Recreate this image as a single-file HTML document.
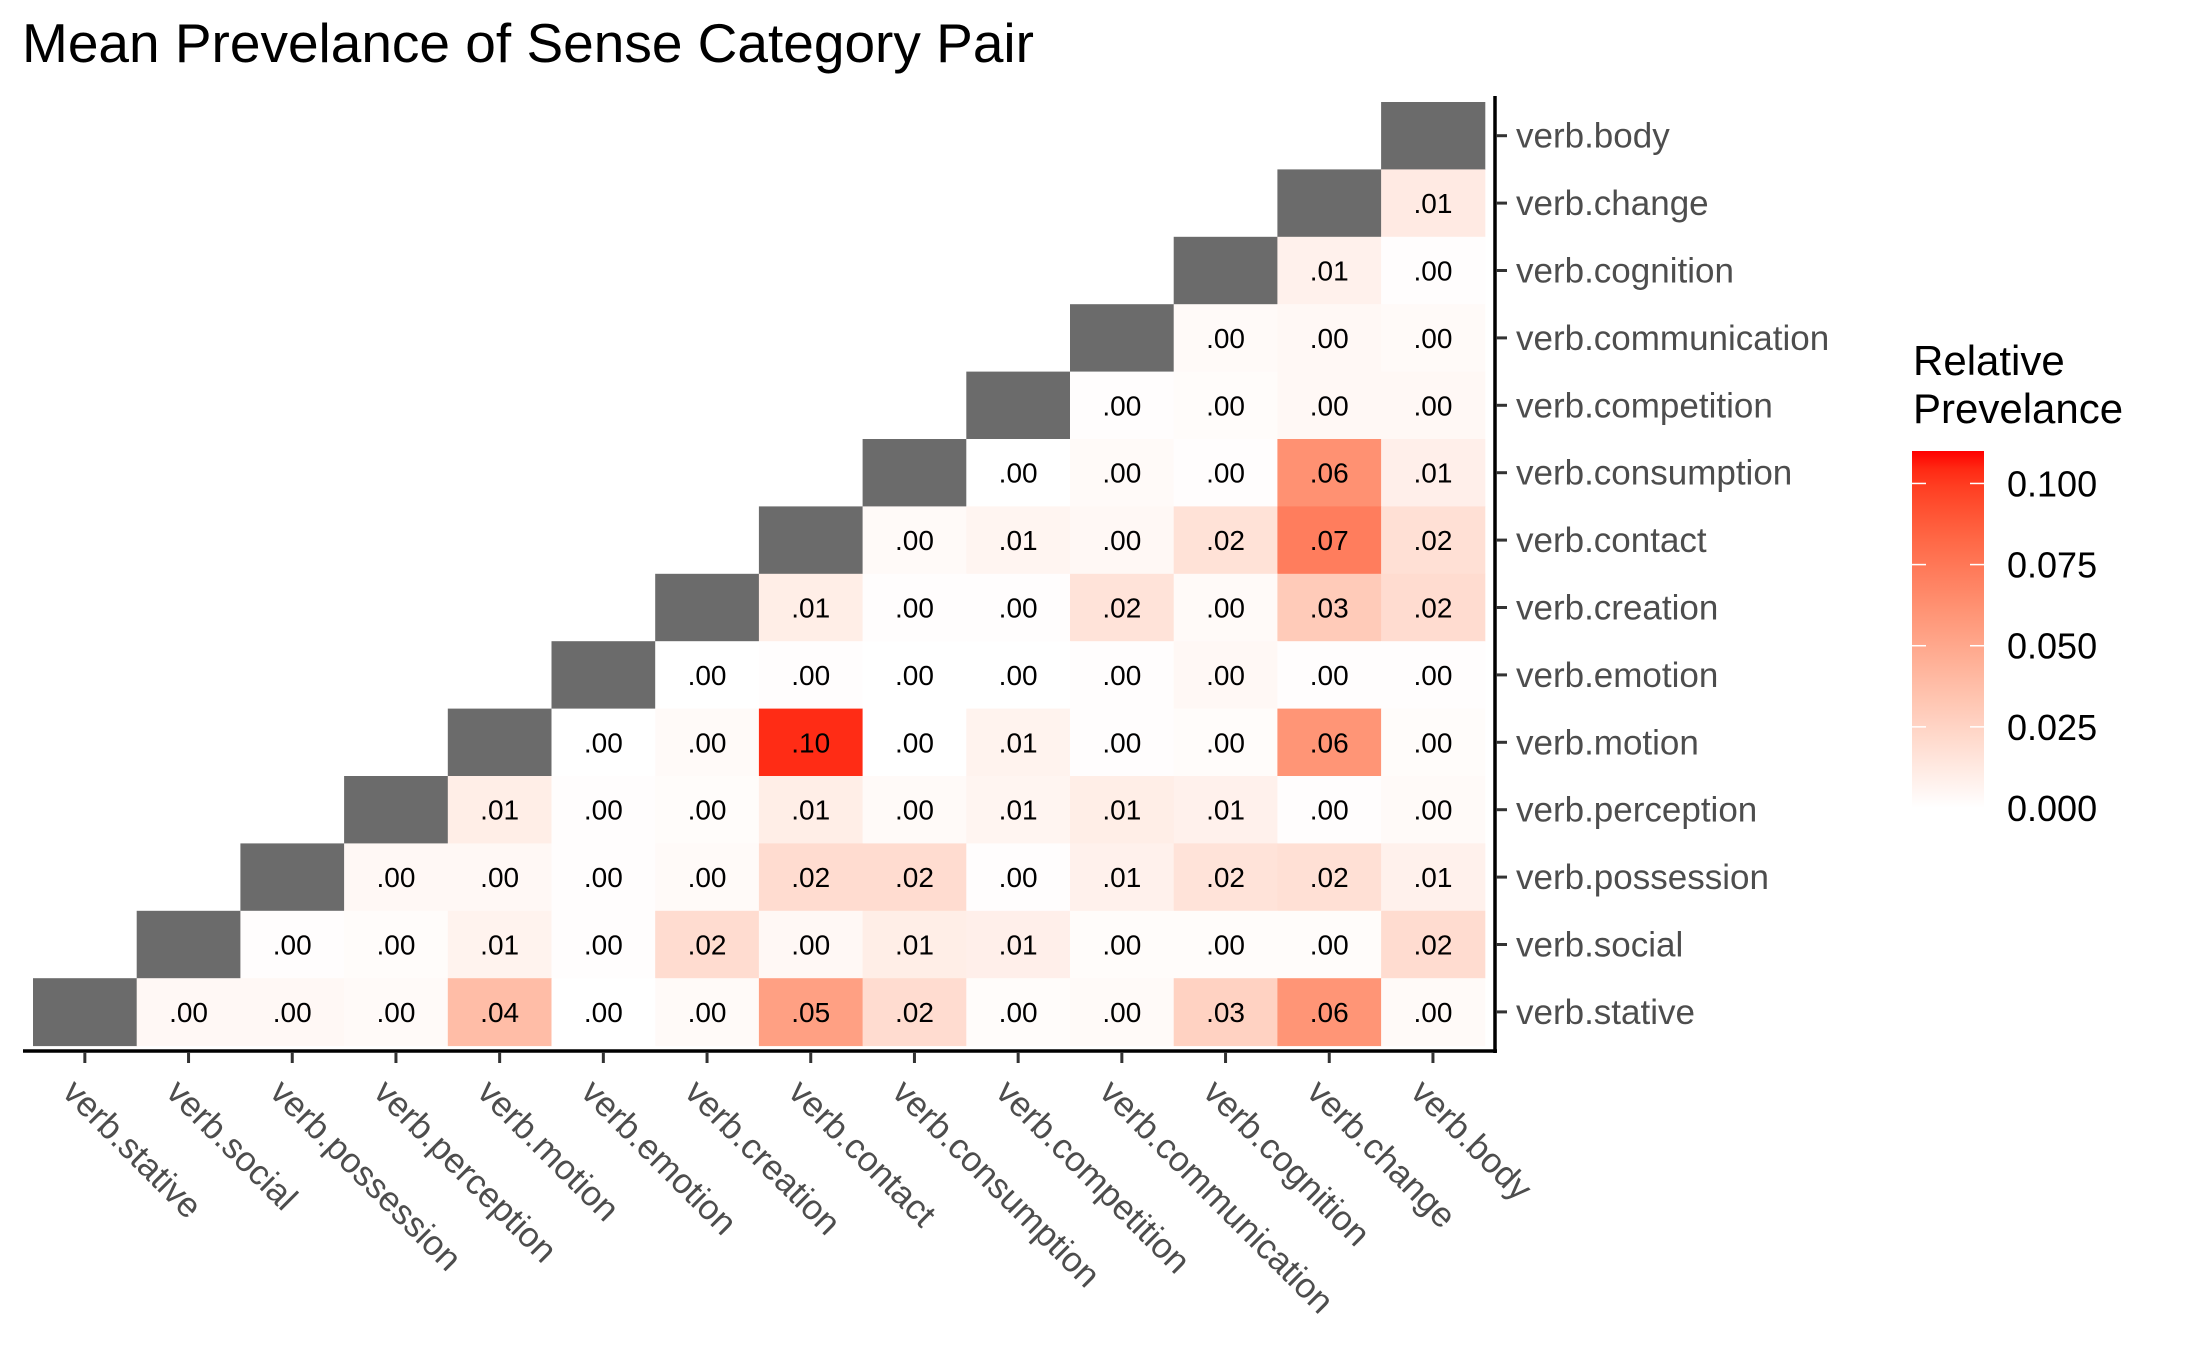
<!DOCTYPE html>
<html><head><meta charset="utf-8"><style>
html,body{margin:0;padding:0;background:#fff;}
svg{display:block;font-family:"Liberation Sans",Arial,sans-serif;}
</style></head><body>
<svg id="chart" width="2187" height="1351" viewBox="0 0 2187 1351">
<text x="22" y="62" font-size="55" fill="#000">Mean Prevelance of Sense Category Pair</text>
<g id="cells"></g>
<g id="axes"></g>
<g id="legend">
<defs><linearGradient id="lg" x1="0" y1="1" x2="0" y2="0"></linearGradient></defs>
<text x="1913" y="375" font-size="42" fill="#000">Relative</text>
<text x="1913" y="423" font-size="42" fill="#000">Prevelance</text>
</g>
</svg>
<script>
const cats = ["verb.stative","verb.social","verb.possession","verb.perception","verb.motion","verb.emotion","verb.creation","verb.contact","verb.consumption","verb.competition","verb.communication","verb.cognition","verb.change","verb.body"];
const rowBody = [];
const rowChange = [0.012];
const rowCognition = [0.008,0.001];
const rowCommunication = [0.003,0.004,0.003];
const rowCompetition = [0.001,0.002,0.004,0.004];
const rowConsumption = [0.0,0.003,0.001,0.062,0.009];
const rowContact = [0.003,0.006,0.004,0.017,0.072,0.018];
const rowCreation = [0.01,0.001,0.001,0.016,0.003,0.03,0.02];
const rowEmotion = [0.0,0.001,0.0,0.0,0.001,0.004,0.001,0.001];
const rowMotion = [0.0,0.003,0.104,0.0,0.007,0.001,0.002,0.06,0.002];
const rowPerception = [0.01,0.001,0.002,0.01,0.003,0.006,0.01,0.008,0.001,0.003];
const rowPossession = [0.004,0.004,0.001,0.003,0.02,0.02,0.001,0.008,0.016,0.018,0.008];
const rowSocial = [0.001,0.002,0.007,0.001,0.02,0.004,0.01,0.009,0.002,0.002,0.002,0.02];
const rowStative = [0.004,0.004,0.003,0.038,0.0,0.003,0.054,0.02,0.002,0.003,0.026,0.06,0.003];
const rows = [rowBody,rowChange,rowCognition,rowCommunication,rowCompetition,rowConsumption,rowContact,rowCreation,rowEmotion,rowMotion,rowPerception,rowPossession,rowSocial,rowStative];
const legendTicks = [0,0.025,0.05,0.075,0.1];
const legendLabels = ["0.000","0.025","0.050","0.075","0.100"];
const vmax = 0.11;

const NS="http://www.w3.org/2000/svg";
const X0=33, CW=103.7, Y0=102, CH=67.4, N=14;
const xPos = c => X0 + c*CW;
const yPos = r => Y0 + r*CH;
function mk(tag, attrs, parent){const e=document.createElementNS(NS,tag);for(const k in attrs)e.setAttribute(k,attrs[k]);parent.appendChild(e);return e;}

function srgb2lin(c){c/=255;return c<=0.04045?c/12.92:Math.pow((c+0.055)/1.055,2.4);}
function lin2srgb(c){c=c<=0.0031308?12.92*c:1.055*Math.pow(c,1/2.4)-0.055;return Math.max(0,Math.min(255,Math.round(c*255)));}
function toLab(r,g,b){r=srgb2lin(r);g=srgb2lin(g);b=srgb2lin(b);
 let x=(r*0.4124+g*0.3576+b*0.1805)/0.95047,y=(r*0.2126+g*0.7152+b*0.0722),z=(r*0.0193+g*0.1192+b*0.9505)/1.08883;
 const f=t=>t>0.008856?Math.cbrt(t):7.787*t+16/116;x=f(x);y=f(y);z=f(z);return [116*y-16,500*(x-y),200*(y-z)];}
function fromLab(L,a,b){let y=(L+16)/116,x=a/500+y,z=y-b/200;const fi=t=>t*t*t>0.008856?t*t*t:(t-16/116)/7.787;
 x=fi(x)*0.95047;y=fi(y);z=fi(z)*1.08883;
 const r=x*3.2406+y*-1.5372+z*-0.4986,g=x*-0.9689+y*1.8758+z*0.0415,bb=x*0.0557+y*-0.2040+z*1.0570;
 return `rgb(${lin2srgb(r)},${lin2srgb(g)},${lin2srgb(bb)})`;}
const LW=toLab(255,255,255), LR=toLab(255,0,0);
function col(v){const t=Math.max(0,Math.min(1,v/vmax));return fromLab(LW[0]+(LR[0]-LW[0])*t,LW[1]+(LR[1]-LW[1])*t,LW[2]+(LR[2]-LW[2])*t);}
function fmt(v){return v.toFixed(2).replace(/^0/,'');}

const cg=document.getElementById('cells');
rows.forEach((vals,r)=>{
  const d = N-1-r;
  const dg=mk('rect',{x:xPos(d),y:yPos(r),width:CW+0.5,height:CH+0.5,fill:'#6b6b6b'},cg);
  
  
  vals.forEach((v,k)=>{
    const c=d+1+k;
    const rc=mk('rect',{x:xPos(c),y:yPos(r),width:CW+0.5,height:CH+0.5,fill:col(v)},cg);
    
    
    const t=mk('text',{x:xPos(c)+CW/2,y:yPos(r)+CH/2+10,'font-size':28,'text-anchor':'middle',fill:'#000'},cg);
    t.textContent=fmt(v);
    
    
  });
});

const ag=document.getElementById('axes');
const xl=mk('line',{x1:23,y1:1051,x2:1497,y2:1051,stroke:'#000','stroke-width':3.5},ag);


const yl=mk('line',{x1:1495,y1:96,x2:1495,y2:1053,stroke:'#000','stroke-width':3.5},ag);


cats.forEach((c,i)=>{
  const tx=xPos(i)+CW/2;
  const tk=mk('line',{x1:tx,y1:1052,x2:tx,y2:1063,stroke:'#333','stroke-width':3},ag);
  
  
  const ax=tx-24, ay=1094;
  const t=mk('text',{x:ax,y:ay,'font-size':35,fill:'#4d4d4d',transform:`rotate(45 ${ax} ${ay})`},ag);
  t.textContent=c;
  
  
});
cats.slice().reverse().forEach((c,r)=>{
  const ty=yPos(r)+CH/2;
  const tk=mk('line',{x1:1496,y1:ty,x2:1507,y2:ty,stroke:'#333','stroke-width':3},ag);
  
  
  const t=mk('text',{x:1516,y:ty+12,'font-size':35,fill:'#4d4d4d'},ag);
  t.textContent=c;
  
  
});

const lgEl=document.getElementById('legend');
const grad=document.getElementById('lg');
for(let i=0;i<=20;i++){mk('stop',{offset:(i/20),'stop-color':col(vmax*i/20)},grad);}
const LT=451, LB=808, LX=1912, LWd=72;
const ly = v => LB - (v/vmax)*(LB-LT);
const bar=mk('rect',{x:LX,y:LT,width:LWd,height:LB-LT,fill:'url(#lg)'},lgEl);


legendTicks.forEach((v,i)=>{
  const y=ly(v);
  if(v>0){
    mk('line',{x1:LX,y1:y,x2:LX+14,y2:y,stroke:'#fff','stroke-width':1.5},lgEl);
    mk('line',{x1:LX+LWd-14,y1:y,x2:LX+LWd,y2:y,stroke:'#fff','stroke-width':1.5},lgEl);
  }
  const t=mk('text',{x:2007,y:y+13,'font-size':36,fill:'#000'},lgEl);
  t.textContent=legendLabels[i];
  
  
});
</script>
</body></html>
